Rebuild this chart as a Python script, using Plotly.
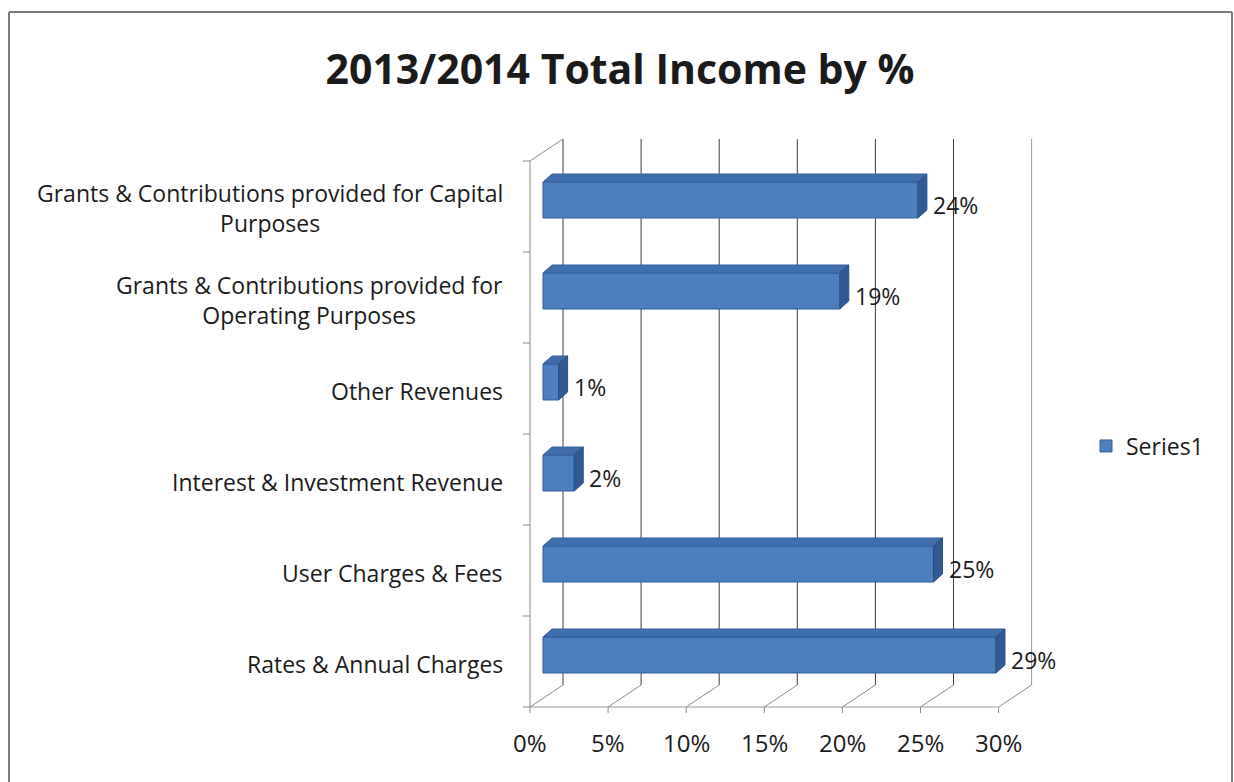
import plotly.graph_objects as go

# ---- data -------------------------------------------------------------
categories = [
    "Rates & Annual Charges",
    "User Charges & Fees",
    "Interest & Investment Revenue",
    "Other Revenues",
    "Grants & Contributions provided for<br>Operating Purposes",
    "Grants & Contributions provided for Capital<br>Purposes",
]
values = [29, 25, 2, 1, 19, 24]
value_labels = ["29%", "25%", "2%", "1%", "19%", "24%"]
x_ticks = [0, 5, 10, 15, 20, 25, 30]
x_tick_labels = ["0%", "5%", "10%", "15%", "20%", "25%", "30%"]
chart_title = "2013/2014 Total Income by %"
series_name = "Series1"

# ---- geometry of the pseudo-3D box -----------------------------------
W, H = 1234, 782
PX_X = 15.62      # pixels per percentage point
PX_Y = 91.0       # pixels per category slot
ORIGIN_X = 543    # pixel x of value 0 on the bar-face plane
ORIGIN_Y = 655    # pixel y of the first category centre on the bar-face plane
DOM_L, DOM_R, DOM_T, DOM_B = 505, 1050, 130, 725

x_range = [(DOM_L - ORIGIN_X) / PX_X, (DOM_R - ORIGIN_X) / PX_X]
y_range = [(ORIGIN_Y - DOM_B) / PX_Y, (ORIGIN_Y - DOM_T) / PX_Y]

# depth offsets (pixel -> data units)
FRONT = (-13 / PX_X, -6.5 / PX_Y)
BACK = (20 / PX_X, 15.5 / PX_Y)
DEPTH = (9 / PX_X, 8 / PX_Y)
BAR_W = 36 / PX_Y
FLOOR, TOP = -0.5, len(categories) - 0.5
X_MAX = x_ticks[-1]

pos = list(range(len(categories)))

font_family = "'Open Sans', Lato, sans-serif"
text_col = "#1b1b1b"
label_size = 23

fig = go.Figure()

# front faces of the bars
fig.add_trace(go.Bar(
    x=values, y=pos, orientation="h", width=BAR_W, name=series_name,
    marker=dict(color="#4b7fbe", line=dict(color="#33609c", width=1)),
    hoverinfo="x+y",
))

# top and side faces, built from the same values
top_x, top_y, side_x, side_y = [], [], [], []
for v, p in zip(values, pos):
    t, b = p + BAR_W / 2, p - BAR_W / 2
    top_x += [0, v, v + DEPTH[0], DEPTH[0], 0, None]
    top_y += [t, t, t + DEPTH[1], t + DEPTH[1], t, None]
    side_x += [v, v + DEPTH[0], v + DEPTH[0], v, v, None]
    side_y += [b, b + DEPTH[1], t + DEPTH[1], t, b, None]

fig.add_trace(go.Scatter(
    x=top_x, y=top_y, mode="lines", fill="toself", fillcolor="#3f6eac",
    line=dict(color="#33609c", width=1), hoverinfo="skip", showlegend=False,
))
fig.add_trace(go.Scatter(
    x=side_x, y=side_y, mode="lines", fill="toself", fillcolor="#2f5a94",
    line=dict(color="#2a5088", width=1), hoverinfo="skip", showlegend=False,
))

shapes = []


def seg(x0, y0, x1, y1, color, width=1, layer="below"):
    shapes.append(dict(type="line", xref="x", yref="y", x0=x0, y0=y0,
                       x1=x1, y1=y1, layer=layer,
                       line=dict(color=color, width=width)))


# back wall gridlines
for v in x_ticks:
    col = "#9a9a9a" if v == X_MAX else "#3c3c3c"
    seg(v + BACK[0], FLOOR + BACK[1], v + BACK[0], TOP + BACK[1], col)

# floor: edges, receding lines and tick marks
seg(FRONT[0], FLOOR + FRONT[1], X_MAX + FRONT[0], FLOOR + FRONT[1], "#9a9a9a")
for v in x_ticks:
    seg(v + FRONT[0], FLOOR + FRONT[1], v + BACK[0], FLOOR + BACK[1], "#8a8a8a")
    seg(v + FRONT[0], FLOOR + FRONT[1], v + FRONT[0], FLOOR + FRONT[1] - 6 / PX_Y, "#8a8a8a")

# left wall: front edge, top edge and category tick marks
seg(FRONT[0], FLOOR + FRONT[1], FRONT[0], TOP + FRONT[1], "#8a8a8a")
seg(FRONT[0], TOP + FRONT[1], BACK[0], TOP + BACK[1], "#8a8a8a")
for k in range(len(categories) + 1):
    yk = FLOOR + k + FRONT[1]
    seg(FRONT[0] - 7 / PX_X, yk, FRONT[0], yk, "#8a8a8a")

# outer chart border
for x0, y0, x1, y1 in [(9, 12, 9, H), (9, 12, 1232, 12), (1232, 12, 1232, H)]:
    shapes.append(dict(type="line", xref="paper", yref="paper",
                       x0=x0 / W, y0=1 - y0 / H, x1=x1 / W, y1=1 - y1 / H,
                       line=dict(color="#7a7a7a", width=2)))

annotations = []
# category labels on the front edge of the left wall
for c, p in zip(categories, pos):
    annotations.append(dict(
        xref="paper", yref="y", x=505 / W, y=p + FRONT[1],
        text=c, showarrow=False, xanchor="right", yanchor="middle",
        align="center", yshift=-2,
        font=dict(family=font_family, size=label_size, color=text_col),
    ))
# value labels
for v, lbl, p in zip(values, value_labels, pos):
    annotations.append(dict(
        xref="x", yref="y", x=v + DEPTH[0], y=p, text=lbl, showarrow=False,
        xanchor="left", yanchor="middle", xshift=4, yshift=-5,
        font=dict(family=font_family, size=label_size, color=text_col),
    ))
# value axis labels along the front edge of the floor
for v, lbl in zip(x_ticks, x_tick_labels):
    annotations.append(dict(
        xref="x", yref="y", x=v + FRONT[0], y=FLOOR + FRONT[1], text=lbl,
        showarrow=False, xanchor="center", yanchor="middle", yshift=-35,
        font=dict(family=font_family, size=24, color=text_col),
    ))

fig.update_layout(
    width=W, height=H,
    margin=dict(l=0, r=0, t=0, b=0),
    paper_bgcolor="white", plot_bgcolor="rgba(0,0,0,0)",
    title=dict(text=f"<b>{chart_title}</b>", x=620 / W, xanchor="center",
               y=1 - 70 / H, yanchor="middle",
               font=dict(family=font_family, size=41, color=text_col)),
    xaxis=dict(domain=[DOM_L / W, DOM_R / W], range=x_range,
               showgrid=False, zeroline=False, showticklabels=False,
               showline=False, fixedrange=True),
    yaxis=dict(domain=[1 - DOM_B / H, 1 - DOM_T / H], range=y_range,
               showgrid=False, zeroline=False, showticklabels=False,
               showline=False, fixedrange=True),
    legend=dict(x=1086 / W, y=1 - 446 / H, xanchor="left", yanchor="middle",
                font=dict(family=font_family, size=label_size, color=text_col),
                bgcolor="rgba(0,0,0,0)"),
    showlegend=True,
    shapes=shapes,
    annotations=annotations,
)

fig.write_html("out.html")
